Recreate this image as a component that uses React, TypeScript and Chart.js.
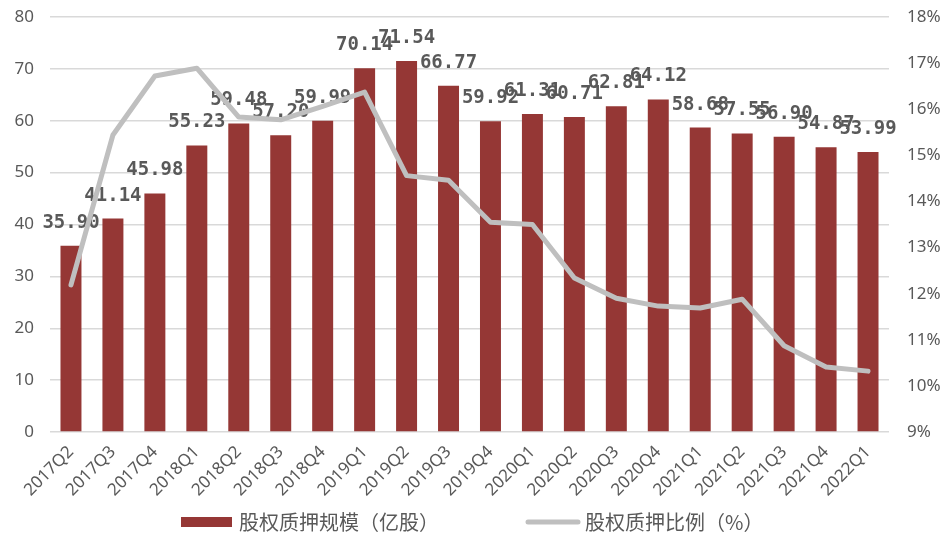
import React, { useEffect, useRef } from 'react';
import { Chart, registerables } from 'chart.js';

Chart.register(...registerables);

const categories = [
  '2017Q2', '2017Q3', '2017Q4', '2018Q1', '2018Q2', '2018Q3', '2018Q4', '2019Q1', '2019Q2', '2019Q3',
  '2019Q4', '2020Q1', '2020Q2', '2020Q3', '2020Q4', '2021Q1', '2021Q2', '2021Q3', '2021Q4', '2022Q1',
];
const pledgeScale = [
  35.9, 41.14, 45.98, 55.23, 59.48, 57.2, 59.99, 70.14, 71.54, 66.77,
  59.92, 61.31, 60.71, 62.81, 64.12, 58.68, 57.55, 56.9, 54.87, 53.99,
];
const pledgeRatio = [
  12.19, 15.44, 16.72, 16.89, 15.83, 15.77, 16.06, 16.37, 14.56, 14.46,
  13.55, 13.5, 12.34, 11.9, 11.73, 11.69, 11.88, 10.87, 10.41, 10.32,
];
const barLegend = '股权质押规模（亿股）';
const lineLegend = '股权质押比例（%）';

const BAR_COLOR = '#953735';
const LINE_COLOR = '#BFBFBF';
const TEXT_COLOR = '#595959';

export default function App() {
  const ref = useRef<HTMLCanvasElement>(null);

  useEffect(() => {
    if (!ref.current) return;

    const labelPlugin = {
      id: 'barLabels',
      afterDatasetDraw(chart: any, args: any) {
        if (args.index !== 0) return;
        const ctx = chart.ctx;
        ctx.save();
        ctx.font = 'bold 19px "DejaVu Sans Mono"';
        ctx.fillStyle = TEXT_COLOR;
        ctx.textAlign = 'center';
        ctx.textBaseline = 'alphabetic';
        args.meta.data.forEach((el: any, i: number) => {
          ctx.fillText(pledgeScale[i].toFixed(2), el.x, el.y - 18);
        });
        ctx.restore();
      },
    };

    const legendPlugin = {
      id: 'customLegend',
      afterDraw(chart: any) {
        const ctx = chart.ctx;
        const y = 522;
        ctx.save();
        ctx.fillStyle = BAR_COLOR;
        ctx.fillRect(181, y - 5, 51, 10);
        ctx.strokeStyle = LINE_COLOR;
        ctx.lineWidth = 5;
        ctx.lineCap = 'round';
        ctx.beginPath();
        ctx.moveTo(528, y);
        ctx.lineTo(578, y);
        ctx.stroke();
        ctx.font = '20px "Noto Sans CJK SC"';
        ctx.fillStyle = TEXT_COLOR;
        ctx.textAlign = 'left';
        ctx.textBaseline = 'middle';
        ctx.fillText(barLegend, 239, y);
        ctx.fillText(lineLegend, 585, y);
        ctx.restore();
      },
    };

    const chart = new Chart(ref.current, {
      type: 'bar',
      data: {
        labels: categories,
        datasets: [
          {
            type: 'bar',
            label: barLegend,
            data: pledgeScale,
            backgroundColor: BAR_COLOR,
            yAxisID: 'y',
            categoryPercentage: 1,
            barPercentage: 0.5,
            order: 1,
          },
          {
            type: 'line',
            label: lineLegend,
            data: pledgeRatio,
            borderColor: LINE_COLOR,
            backgroundColor: LINE_COLOR,
            borderWidth: 5,
            pointRadius: 0,
            tension: 0,
            borderCapStyle: 'round',
            borderJoinStyle: 'round',
            yAxisID: 'y1',
            order: 0,
          } as any,
        ],
      },
      options: {
        animation: false,
        responsive: true,
        maintainAspectRatio: false,
        layout: { padding: { top: 17, left: 0, right: 0, bottom: 0 } },
        plugins: {
          legend: { display: false },
          tooltip: { enabled: false },
        },
        scales: {
          x: {
            grid: { display: false },
            border: { display: false },
            ticks: {
              color: TEXT_COLOR,
              font: { family: '"Noto Sans"', size: 17 },
              maxRotation: 45,
              minRotation: 45,
              autoSkip: false,
              padding: 2,
            },
            afterFit(scale: any) {
              scale.height = 103;
            },
          },
          y: {
            position: 'left',
            min: 0,
            max: 80,
            ticks: {
              stepSize: 10,
              color: TEXT_COLOR,
              font: { family: '"Noto Sans"', size: 17 },
              padding: 16,
            },
            grid: { color: '#D9D9D9', lineWidth: 1.5, drawTicks: false },
            border: { display: false },
            afterFit(scale: any) {
              scale.width = 50;
              scale.paddingTop = 0;
              scale.paddingBottom = 0;
            },
          },
          y1: {
            position: 'right',
            min: 9,
            max: 18,
            ticks: {
              stepSize: 1,
              color: TEXT_COLOR,
              font: { family: '"Noto Sans"', size: 17 },
              padding: 18,
              callback: (v: any) => v + '%',
            },
            grid: { display: false, drawTicks: false },
            border: { display: false },
            afterFit(scale: any) {
              scale.width = 59;
              scale.paddingTop = 0;
              scale.paddingBottom = 0;
            },
          },
        },
      },
      plugins: [labelPlugin, legendPlugin],
    } as any);

    return () => chart.destroy();
  }, []);

  return (
    <div style={{ position: 'fixed', left: 0, top: 0, width: 948, height: 535, background: '#fff' }}>
      <canvas ref={ref} />
    </div>
  );
}
